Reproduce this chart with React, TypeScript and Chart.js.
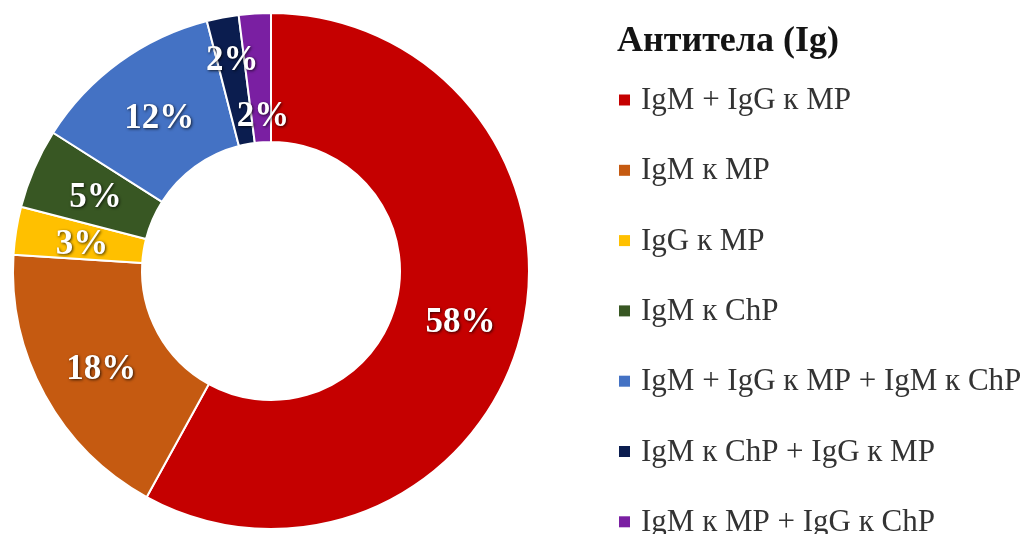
import React, { useEffect, useRef } from "react";
import { Chart, registerables } from "chart.js";

Chart.register(...registerables);

const legendTitle = "Антитела (Ig)";
const categories = [
  "IgM + IgG к MP",
  "IgM к MP",
  "IgG к MP",
  "IgM к ChP",
  "IgM + IgG к MP + IgM к ChP",
  "IgM к ChP + IgG к MP",
  "IgM к MP + IgG к ChP",
];
const percentages = [58, 18, 3, 5, 12, 2, 2];
const sliceColors = ["#C50000", "#C55A11", "#FFC000", "#385723", "#4472C4", "#0B1D4F", "#7A1FA2"];
// radial position of each value label inside the ring (0 = inner edge, 1 = outer edge)
const labelRadialPos = [0.5, 0.52, 0.5, 0.5, 0.5, 0.69, 0.23];

const labelPlugin = {
  id: "sliceLabels",
  afterDatasetsDraw(chart: any) {
    const ctx = chart.ctx;
    const meta = chart.getDatasetMeta(0);
    ctx.save();
    ctx.font = "bold 35px 'Liberation Serif', 'Times New Roman', serif";
    ctx.textAlign = "center";
    ctx.textBaseline = "middle";
    meta.data.forEach((arc: any, i: number) => {
      const p = arc.getProps(["x", "y", "startAngle", "endAngle", "innerRadius", "outerRadius"], true);
      const mid = (p.startAngle + p.endAngle) / 2;
      const r = p.innerRadius + (p.outerRadius - p.innerRadius) * labelRadialPos[i];
      const x = p.x + Math.cos(mid) * r;
      const y = p.y + Math.sin(mid) * r;
      ctx.shadowColor = "rgba(0,0,0,0.75)";
      ctx.shadowBlur = 3;
      ctx.shadowOffsetX = 1;
      ctx.shadowOffsetY = 1;
      ctx.fillStyle = "#ffffff";
      ctx.fillText(chart.data.datasets[0].data[i] + "%", x + 2, y + 4);
    });
    ctx.restore();
  },
};

const legendPlugin = {
  id: "sideLegend",
  afterDraw(chart: any) {
    const ctx = chart.ctx;
    const ds = chart.data.datasets[0];
    ctx.save();
    ctx.textAlign = "left";
    ctx.textBaseline = "middle";
    ctx.fillStyle = "#141414";
    ctx.font = "bold 36px 'Liberation Serif', 'Times New Roman', serif";
    ctx.fillText(legendTitle, 617, 42);
    ctx.font = "31px 'Liberation Serif', 'Times New Roman', serif";
    chart.data.labels.forEach((lab: string, i: number) => {
      const y = 100 + 70.3 * i;
      ctx.fillStyle = ds.backgroundColor[i];
      ctx.fillRect(619, y - 5.5, 11, 11);
      ctx.fillStyle = "#333333";
      ctx.fillText(lab, 641, y + 1);
    });
    ctx.restore();
  },
};

export default function App() {
  const ref = useRef<HTMLCanvasElement>(null);
  useEffect(() => {
    const chart = new Chart(ref.current!, {
      type: "doughnut",
      data: {
        labels: categories,
        datasets: [
          {
            data: percentages,
            backgroundColor: sliceColors,
            borderColor: "#ffffff",
            borderWidth: 2,
          },
        ],
      },
      options: {
        responsive: false,
        animation: false,
        devicePixelRatio: 1,
        cutout: "50%",
        layout: { padding: { left: 12, top: 12, bottom: 4, right: 496 } },
        plugins: {
          legend: { display: false },
          tooltip: { enabled: false },
        },
      },
      plugins: [labelPlugin, legendPlugin],
    });
    return () => chart.destroy();
  }, []);
  return (
    <div style={{ position: "absolute", left: 0, top: 0, width: 1026, height: 534, background: "#fff" }}>
      <canvas ref={ref} width={1026} height={534} />
    </div>
  );
}
